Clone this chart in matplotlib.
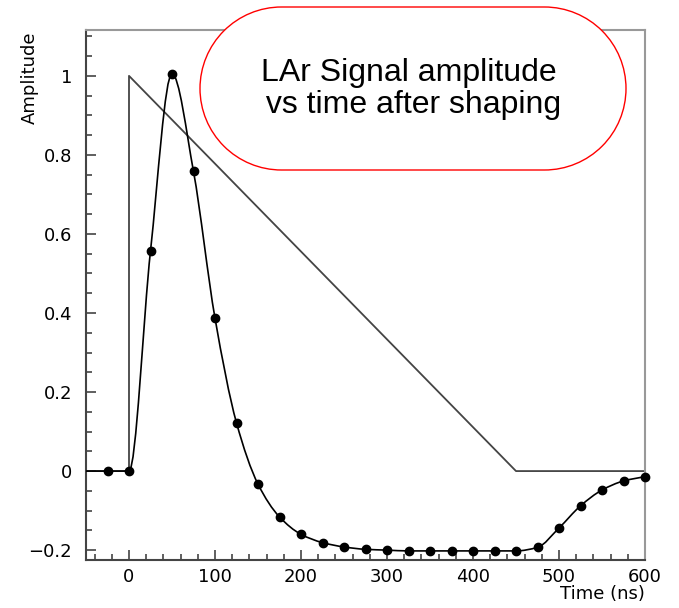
import numpy as np
import matplotlib
matplotlib.use('Agg')
import matplotlib.pyplot as plt
from matplotlib.path import Path
from matplotlib.patches import PathPatch
from matplotlib.ticker import MultipleLocator, FixedLocator

# shaped signal samples (every 25 ns)
time_ns = [-25, 0, 25, 50, 75, 100, 125, 150, 175, 200, 225, 250, 275, 300,
           325, 350, 375, 400, 425, 450, 475, 500, 525, 550, 575, 600]
amplitude = [0.0, 0.0, 0.557, 1.005, 0.758, 0.387, 0.122, -0.033, -0.116, -0.160,
             -0.181, -0.192, -0.198, -0.200, -0.202, -0.202, -0.202, -0.202, -0.202,
             -0.202, -0.193, -0.144, -0.088, -0.048, -0.025, -0.014]

# unshaped triangular ionisation signal
tri_x = [-50, 0, 0, 450, 600]
tri_y = [0, 0, 1, 0, 0]

ytick_vals = [-0.2, 0, 0.2, 0.4, 0.6, 0.8, 1]
ytick_labels = ['\u22120.2', '0', '0.2', '0.4', '0.6', '0.8', '1']
xtick_vals = [0, 100, 200, 300, 400, 500, 600]

W, H = 679, 608
fig = plt.figure(figsize=(W / 100, H / 100), dpi=100)
ax = fig.add_axes([86 / W, (H - 560) / H, (645 - 86) / W, (560 - 30) / H])

# triangle
ax.plot(tri_x, tri_y, color='#444444', lw=1.3, zorder=2)

# smooth monotone cubic through the samples (drawn as bezier path)
x = np.array(time_ns, dtype=float)
y = np.array(amplitude, dtype=float)
h = np.diff(x)
d = np.diff(y) / h
m = np.zeros_like(y)
m[0], m[-1] = d[0], d[-1]
for i in range(1, len(y) - 1):
    if d[i - 1] * d[i] > 0:
        m[i] = 2.0 / (1.0 / d[i - 1] + 1.0 / d[i])
verts = [(-50, 0.0), (x[0], y[0])]
codes = [Path.MOVETO, Path.LINETO]
for i in range(len(h)):
    verts += [(x[i] + h[i] / 3, y[i] + m[i] * h[i] / 3),
              (x[i + 1] - h[i] / 3, y[i + 1] - m[i + 1] * h[i] / 3),
              (x[i + 1], y[i + 1])]
    codes += [Path.CURVE4] * 3
ax.add_patch(PathPatch(Path(verts, codes), facecolor='none', edgecolor='black',
                       lw=1.2, zorder=3))
ax.plot(time_ns, amplitude, 'o', color='black', ms=6, zorder=4, clip_on=False)

ax.set_xlim(-50, 600)
ax.set_ylim(-0.225, 1.116)

ax.xaxis.set_major_locator(FixedLocator(xtick_vals))
ax.xaxis.set_minor_locator(MultipleLocator(20))
ax.yaxis.set_major_locator(FixedLocator(ytick_vals))
ax.set_yticklabels(ytick_labels)
ax.yaxis.set_minor_locator(MultipleLocator(0.05))
ax.tick_params(which='both', direction='in', top=False, right=False, color='#444444',
               width=1.2, labelsize=13)
ax.tick_params(which='major', length=7.5)
ax.tick_params(which='minor', length=4)
ax.tick_params(axis='x', pad=6)
ax.tick_params(axis='y', pad=10)

for side in ['left', 'bottom']:
    ax.spines[side].set_color('#444444')
    ax.spines[side].set_linewidth(1.5)
for side in ['top', 'right']:
    ax.spines[side].set_color('#999999')
    ax.spines[side].set_linewidth(1.5)

fig.text(30 / W, 1 - 31 / H, 'Amplitude', rotation=90, ha='center', va='top', fontsize=13)
fig.text(645 / W, 1 - 585 / H, 'Time (ns)', ha='right', va='top', fontsize=13)

# stadium-shaped caption box (pixel coordinates, y up)
bx0, bx1 = 200, 626
by0, by1 = H - 170, H - 7
r = (by1 - by0) / 2
yc = (by0 + by1) / 2
left = Path.arc(90, 270)
right = Path.arc(-90, 90)
lv = left.vertices * r + [bx0 + r, yc]
rv = right.vertices * r + [bx1 - r, yc]
box_verts = np.vstack([lv, rv, lv[:1]])
box_codes = ([Path.MOVETO] + list(left.codes[1:]) + [Path.LINETO] + list(right.codes[1:])
             + [Path.LINETO])
box = PathPatch(Path(box_verts, box_codes), transform=None, facecolor='white',
                edgecolor='red', lw=1.0, zorder=10)
fig.patches.append(box)
fig.text(409 / W, 1 - 89 / H, 'LAr Signal amplitude\n vs time after shaping',
         ha='center', va='center', multialignment='center', fontsize=23,
         family='Liberation Sans', linespacing=1.1, zorder=11)

plt.savefig('out.png', dpi=100)
